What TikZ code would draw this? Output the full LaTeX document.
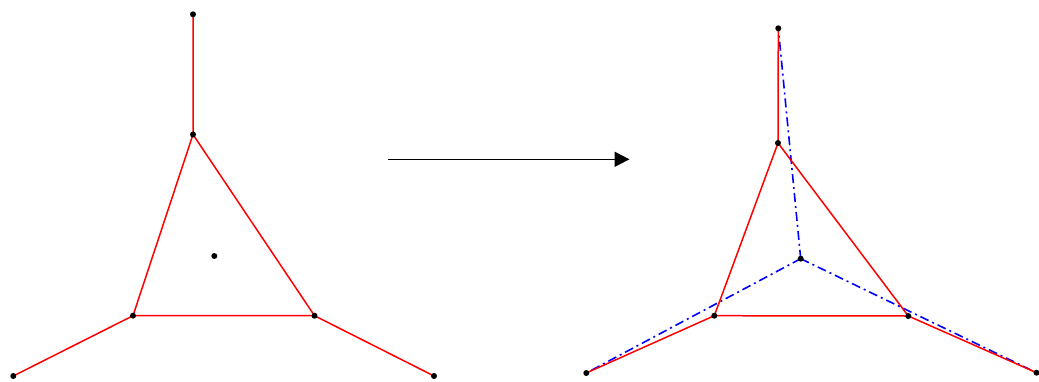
\documentclass[tikz,border=0pt]{standalone}
\usetikzlibrary{arrows.meta,backgrounds}
\begin{document}
\begin{tikzpicture}[x=1pt,y=-1pt,
  pt/.style={circle,fill=black,inner sep=0pt,minimum size=6pt},
  edgeline/.style={draw=red,line width=1.5pt},
  dualline/.style={draw=blue,line width=1.6pt,dash pattern=on 9pt off 4pt on 2pt off 4pt},
  bigarrow/.style={draw=black,line width=1.6pt,-{Triangle[length=15pt,width=15pt]}}]
\useasboundingbox (0,0) rectangle (1039,381);
% left figure
\node[pt] (Lt) at (193,14.3) {};
\node[pt] (Lm) at (193,134.5) {};
\node[pt] (Lc) at (214.3,256) {};
\node[pt] (Ll) at (133,315.7) {};
\node[pt] (Lr) at (314.5,315.7) {};
\node[pt] (Lfl) at (13.3,376) {};
\node[pt] (Lfr) at (434,376) {};
% right figure
\node[pt] (Rt) at (778.3,28.3) {};
\node[pt] (Rm) at (778,143) {};
\node[pt] (Rc) at (800.7,258.7) {};
\node[pt] (Rl) at (714.3,315.7) {};
\node[pt] (Rr) at (908.3,316) {};
\node[pt] (Rfl) at (586.3,373) {};
\node[pt] (Rfr) at (1036.5,372.7) {};
% arrow
\coordinate (A1) at (388,159.3);
\coordinate (A2) at (629.5,159.3);
\draw[bigarrow] (A1) -- (A2);
\begin{scope}[on background layer]
\draw[edgeline] (Lt.center) -- (Lm.center) -- (Ll.center) -- (Lr.center) -- (Lm.center);
\draw[edgeline] (Ll.center) -- (Lfl.center);
\draw[edgeline] (Lr.center) -- (Lfr.center);
\draw[dualline] (Rc.center) -- (Rt.center);
\draw[dualline] (Rc.center) -- (Rfl.center);
\draw[dualline] (Rc.center) -- (Rfr.center);
\draw[edgeline] (Rt.center) -- (Rm.center) -- (Rl.center) -- (Rr.center) -- (Rm.center);
\draw[edgeline] (Rl.center) -- (Rfl.center);
\draw[edgeline] (Rr.center) -- (Rfr.center);
\end{scope}
\end{tikzpicture}
\end{document}
